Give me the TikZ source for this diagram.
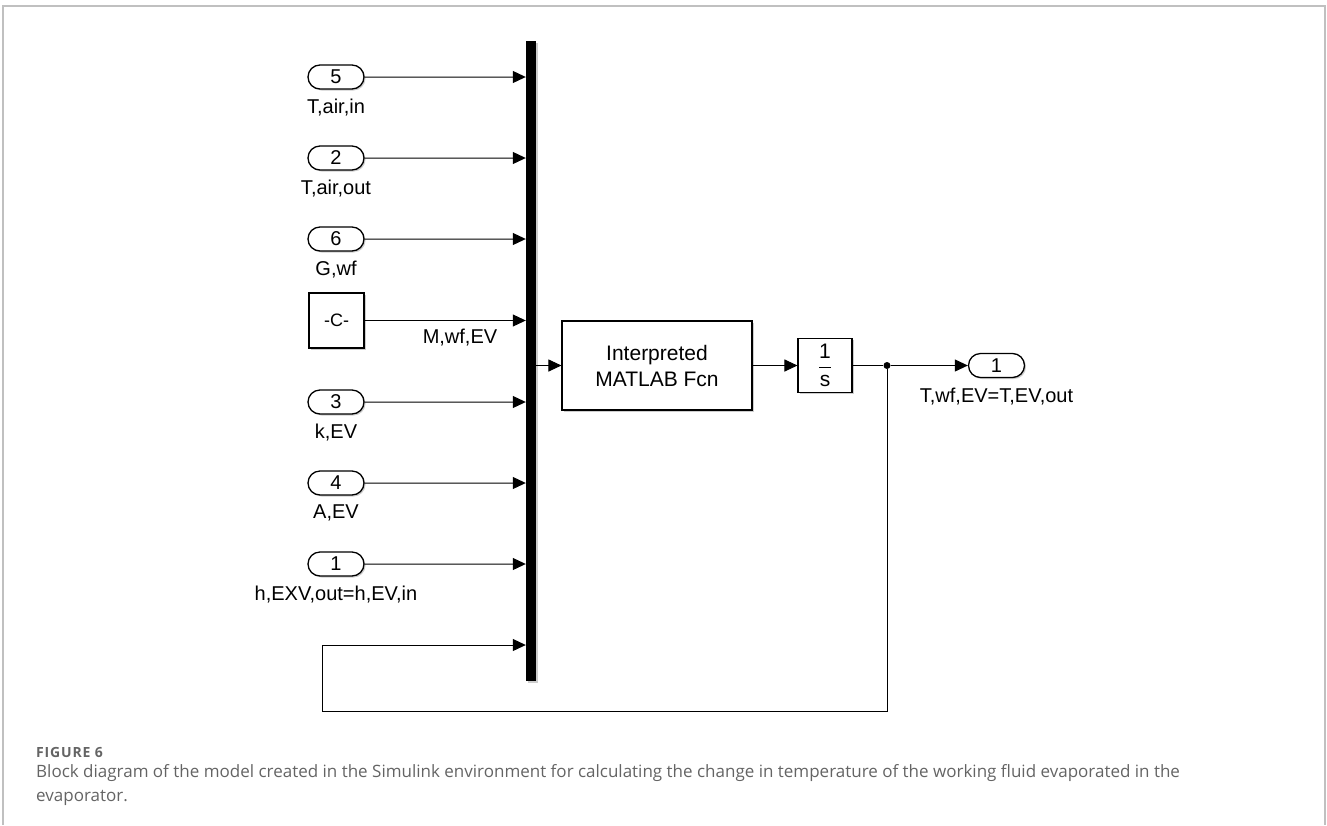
\documentclass[tikz,border=0pt]{standalone}
\usepackage{fontspec}
\usepackage{amsmath}
\setmainfont{Liberation Sans}
\newfontfamily\capfont{Open Sans}
\usetikzlibrary{arrows.meta,positioning,shapes.misc,shadows}
\definecolor{frameGray}{RGB}{192,192,192}
\definecolor{capGray}{RGB}{100,100,100}
\definecolor{shadowGray}{RGB}{205,205,205}
\tikzset{
  blkshadow/.style={drop shadow={shadow xshift=1.5pt, shadow yshift=-1.5pt, fill=shadowGray, opacity=1}},
  inport/.style={draw, rounded rectangle, line width=1.3pt, fill=white, minimum width=56pt, minimum height=24pt, inner sep=0pt, font=\fontsize{20}{24}\selectfont, blkshadow},
  constblk/.style={draw, line width=1.1pt, fill=white, minimum width=55pt, minimum height=55pt, inner sep=0pt, font=\fontsize{18}{22}\selectfont, blkshadow},
  fcnblk/.style={draw, line width=1.1pt, fill=white, minimum width=190pt, minimum height=89pt, align=center, font=\fontsize{21}{26}\selectfont, blkshadow},
  intblk/.style={draw, line width=1.1pt, fill=white, minimum width=54pt, minimum height=54pt, inner sep=0pt, font=\fontsize{21}{25}\selectfont, blkshadow},
  muxbar/.style={fill=black, minimum width=10pt, minimum height=640pt, inner sep=0pt, blkshadow},
  portlab/.style={inner sep=0pt, font=\fontsize{20}{24}\selectfont},
  junction/.style={circle, fill=black, minimum size=7pt, inner sep=0pt},
  wire/.style={line width=1pt},
  sig/.style={-{Triangle[length=13pt, width=12pt]}, line width=1pt}
}

\begin{document}
\begin{tikzpicture}[x=1pt, y=-1pt]
  \useasboundingbox (0,0) rectangle (1327,825);
  % frame round the figure
  \draw[frameGray, line width=1.5pt] (3,825) -- (3,6) -- (1325,6) -- (1325,825);

  \node[muxbar] (mux) at (531,361) {};
  \node[inport] (p5) at (336,77) {5};
  \node[portlab, below=9pt of p5] (l5) {T,air,in};
  \node[inport] (p2) at (336,158) {2};
  \node[portlab, below=9pt of p2] (l2) {T,air,out};
  \node[inport] (p6) at (336,239) {6};
  \node[portlab, below=9pt of p6] (l6) {G,wf};
  \node[constblk] (cst) at (336.5,320.5) {-C-};
  \node[portlab, anchor=north] (lc) at (460,329) {M,wf,EV};
  \node[inport] (p3) at (336,402) {3};
  \node[portlab, below=9pt of p3] (l3) {k,EV};
  \node[inport] (p4) at (336,483) {4};
  \node[portlab, below=9pt of p4] (l4) {A,EV};
  \node[inport] (p1) at (336,564) {1};
  \node[portlab, below=9pt of p1] (l1) {h,EXV,out=h,EV,in};

  \node[fcnblk] (fcn) at (657,365.5) {Interpreted\\MATLAB Fcn};
  \node[intblk] (integ) at (825,365.5) {$\dfrac{\text{1}}{\text{s}}$};
  \node[junction] (dot) at (887,365.5) {};
  \node[inport] (out1) at (996.5,365.5) {1};
  \node[portlab, below=10pt of out1] (lout) {T,wf,EV=T,EV,out};
  \coordinate (fbcorner) at (322,711);
  \coordinate (fbin) at (mux.west |- 0,645);

  \draw[sig] (p5) -- (p5 -| mux.west);
  \draw[sig] (p2) -- (p2 -| mux.west);
  \draw[sig] (p6) -- (p6 -| mux.west);
  \draw[sig] (cst) -- (cst -| mux.west);
  \draw[sig] (p3) -- (p3 -| mux.west);
  \draw[sig] (p4) -- (p4 -| mux.west);
  \draw[sig] (p1) -- (p1 -| mux.west);
  \draw[sig] (mux.east |- fcn) -- (fcn);
  \draw[sig] (fcn) -- (integ);
  \draw[wire] (integ) -- (dot);
  \draw[sig] (dot) -- (out1);
  \draw[sig] (dot) |- (fbcorner) |- (fbin);

  % caption
  \node[anchor=base west, inner sep=0pt, text=capGray, font=\capfont\bfseries\fontsize{14}{16}\selectfont\addfontfeature{LetterSpace=6}] (fignum) at (36,757) {FIGURE 6};
  \node[anchor=north west, inner sep=0pt, align=left, text=capGray, font=\capfont\fontsize{17}{24}\selectfont] (caption) at (36,764) {Block diagram of the model created in the Simulink environment for calculating the change in temperature of the working fluid evaporated in the\\evaporator.};
\end{tikzpicture}
\end{document}
